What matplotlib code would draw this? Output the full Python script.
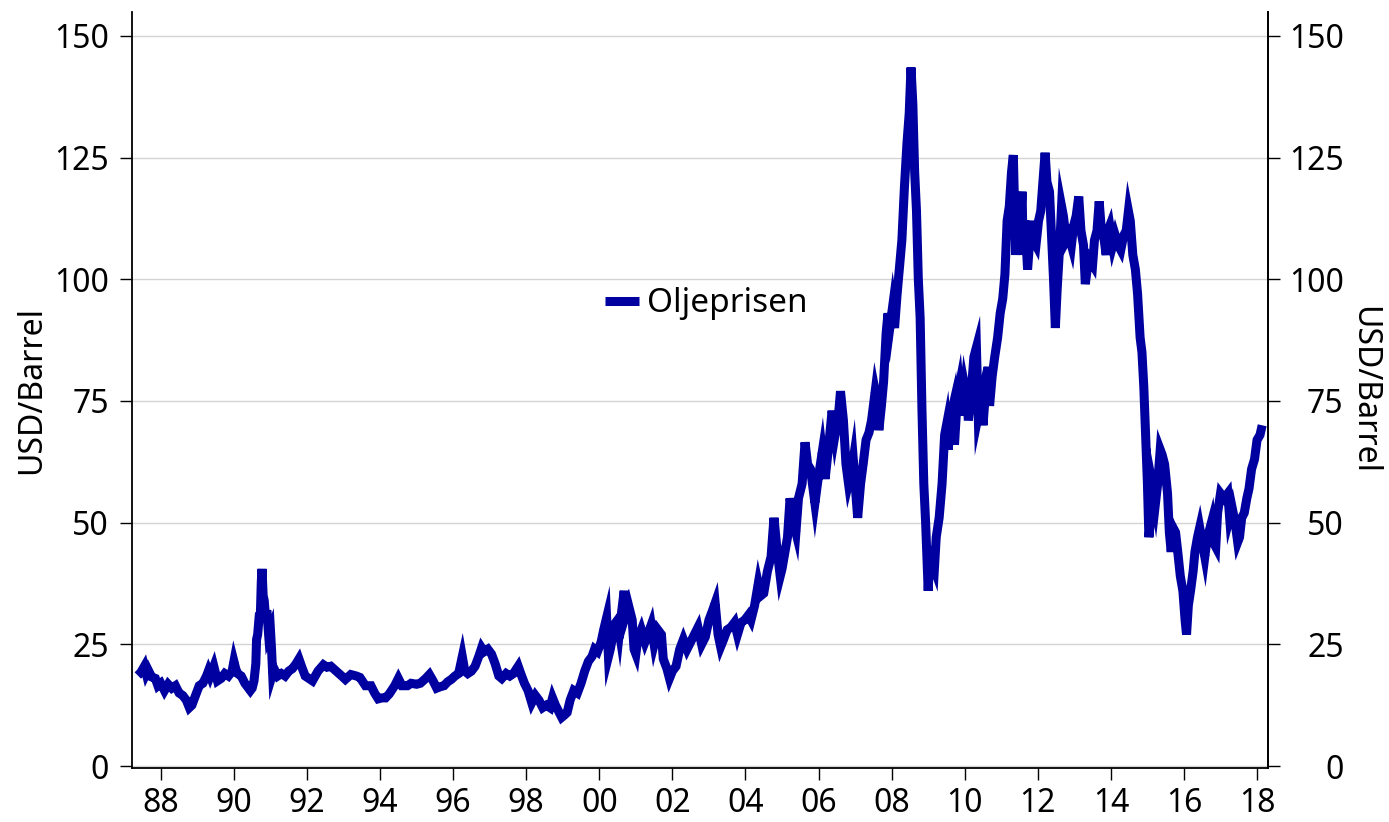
import numpy as np
import matplotlib
matplotlib.use("Agg")
import matplotlib.pyplot as plt

plt.rcParams['font.family'] = ['Noto Sans', 'DejaVu Sans']

# Brent oljepris, USD/fat (desimalår, pris)
years = [
    1987.37, 1987.45, 1987.55, 1987.60, 1987.65, 1987.75, 1987.85, 1987.92, 1988.00, 1988.10,
    1988.20, 1988.30, 1988.40, 1988.50, 1988.60, 1988.70, 1988.78, 1988.85, 1988.95, 1989.05,
    1989.15, 1989.25, 1989.30, 1989.35, 1989.45, 1989.55, 1989.65, 1989.75, 1989.85, 1989.95,
    1990.00, 1990.05, 1990.10, 1990.20, 1990.30, 1990.40, 1990.45, 1990.50, 1990.55, 1990.60,
    1990.62, 1990.65, 1990.70, 1990.72, 1990.75, 1990.77, 1990.80, 1990.83, 1990.87, 1990.90,
    1990.95, 1991.00, 1991.03, 1991.06, 1991.10, 1991.20, 1991.30, 1991.40, 1991.50, 1991.60,
    1991.70, 1991.78, 1991.85, 1991.95, 1992.05, 1992.15, 1992.30, 1992.45, 1992.55, 1992.65,
    1992.80, 1992.95, 1993.05, 1993.20, 1993.35, 1993.45, 1993.60, 1993.75, 1993.85, 1993.95,
    1994.05, 1994.15, 1994.25, 1994.40, 1994.50, 1994.60, 1994.75, 1994.85, 1995.00, 1995.10,
    1995.25, 1995.35, 1995.45, 1995.55, 1995.65, 1995.75, 1995.85, 1995.95, 1996.05, 1996.15,
    1996.25, 1996.32, 1996.40, 1996.50, 1996.60, 1996.70, 1996.78, 1996.85, 1996.95, 1997.05,
    1997.15, 1997.25, 1997.33, 1997.45, 1997.55, 1997.65, 1997.78, 1997.85, 1997.95, 1998.05,
    1998.15, 1998.25, 1998.35, 1998.45, 1998.55, 1998.65, 1998.72, 1998.80, 1998.90, 1998.97,
    1999.05, 1999.12, 1999.20, 1999.30, 1999.40, 1999.50, 1999.60, 1999.70, 1999.80, 1999.87,
    1999.95, 2000.05, 2000.12, 2000.20, 2000.25, 2000.30, 2000.40, 2000.45, 2000.50, 2000.55,
    2000.60, 2000.68, 2000.72, 2000.80, 2000.90, 2000.95, 2001.00, 2001.05, 2001.15, 2001.25,
    2001.35, 2001.42, 2001.50, 2001.60, 2001.70, 2001.75, 2001.85, 2001.92, 2002.00, 2002.10,
    2002.20, 2002.30, 2002.40, 2002.50, 2002.60, 2002.70, 2002.80, 2002.90, 2003.00, 2003.10,
    2003.17, 2003.25, 2003.32, 2003.40, 2003.50, 2003.60, 2003.70, 2003.78, 2003.88, 2003.98,
    2004.08, 2004.15, 2004.25, 2004.35, 2004.42, 2004.50, 2004.60, 2004.70, 2004.78, 2004.85,
    2004.95, 2005.00, 2005.08, 2005.15, 2005.22, 2005.30, 2005.38, 2005.45, 2005.55, 2005.63,
    2005.70, 2005.78, 2005.90, 2005.97, 2006.05, 2006.10, 2006.18, 2006.28, 2006.37, 2006.45,
    2006.55, 2006.60, 2006.68, 2006.75, 2006.82, 2006.90, 2006.95, 2007.03, 2007.07, 2007.15,
    2007.22, 2007.30, 2007.38, 2007.45, 2007.55, 2007.60, 2007.65, 2007.72, 2007.78, 2007.85,
    2007.90, 2007.95, 2008.02, 2008.08, 2008.15, 2008.22, 2008.28, 2008.35, 2008.42, 2008.48,
    2008.53, 2008.58, 2008.63, 2008.68, 2008.73, 2008.78, 2008.83, 2008.88, 2008.93, 2008.97,
    2009.00, 2009.05, 2009.10, 2009.17, 2009.22, 2009.30, 2009.38, 2009.45, 2009.50, 2009.55,
    2009.62, 2009.68, 2009.72, 2009.80, 2009.85, 2009.92, 2010.00, 2010.05, 2010.10, 2010.17,
    2010.25, 2010.32, 2010.37, 2010.45, 2010.50, 2010.58, 2010.64, 2010.68, 2010.75, 2010.82,
    2010.90, 2010.97, 2011.04, 2011.10, 2011.16, 2011.22, 2011.28, 2011.33, 2011.37, 2011.40,
    2011.47, 2011.52, 2011.57, 2011.60, 2011.65, 2011.72, 2011.78, 2011.83, 2011.88, 2011.95,
    2012.02, 2012.08, 2012.15, 2012.20, 2012.25, 2012.32, 2012.38, 2012.43, 2012.48, 2012.53,
    2012.60, 2012.65, 2012.70, 2012.78, 2012.85, 2012.92, 2012.98, 2013.05, 2013.12, 2013.18,
    2013.25, 2013.30, 2013.35, 2013.42, 2013.50, 2013.55, 2013.62, 2013.68, 2013.73, 2013.80,
    2013.87, 2013.92, 2013.97, 2014.05, 2014.12, 2014.20, 2014.27, 2014.35, 2014.42, 2014.48,
    2014.53, 2014.60, 2014.67, 2014.73, 2014.80, 2014.85, 2014.90, 2014.95, 2015.00, 2015.04,
    2015.08, 2015.13, 2015.18, 2015.22, 2015.28, 2015.35, 2015.40, 2015.47, 2015.55, 2015.60,
    2015.65, 2015.70, 2015.77, 2015.83, 2015.90, 2015.97, 2016.03, 2016.07, 2016.12, 2016.18,
    2016.25, 2016.30, 2016.37, 2016.43, 2016.50, 2016.57, 2016.62, 2016.68, 2016.75, 2016.80,
    2016.87, 2016.92, 2017.00, 2017.10, 2017.20, 2017.25, 2017.32, 2017.40, 2017.47, 2017.52,
    2017.58, 2017.65, 2017.72, 2017.78, 2017.85, 2017.93, 2018.00, 2018.08, 2018.14,
]
prices = [
    18.6, 19.2, 20.5, 19.0, 19.8, 18.3, 18.0, 16.5, 17.0, 15.5,
    16.8, 16.0, 16.5, 15.0, 14.5, 13.5, 12.0, 12.5, 14.5, 16.5,
    17.0, 18.5, 19.5, 18.5, 20.5, 17.5, 18.0, 19.0, 18.5, 19.5,
    21.5, 20.0, 19.0, 18.5, 17.0, 16.0, 15.5, 16.0, 17.5, 21.0,
    26.0, 27.0, 31.5, 30.0, 38.0, 40.5, 35.0, 34.0, 30.0, 32.0,
    27.0, 28.0, 24.0, 19.0, 20.0, 18.5, 19.0, 18.5, 19.5, 20.0,
    21.0, 22.0, 20.5, 18.5, 18.0, 17.5, 19.5, 20.8, 20.3, 20.5,
    19.5, 18.5, 17.8, 18.8, 18.5, 18.2, 16.5, 16.5, 15.0, 13.8,
    14.0, 14.0, 14.8, 16.5, 18.0, 16.5, 16.5, 17.0, 16.8, 17.0,
    18.0, 18.8, 17.5, 16.0, 16.3, 16.5, 17.3, 17.8, 18.5, 19.0,
    22.5, 19.5, 19.0, 19.5, 20.5, 22.5, 24.3, 23.5, 24.0, 23.0,
    21.0, 18.5, 18.0, 19.0, 18.5, 19.0, 20.5, 19.0, 17.0, 15.5,
    13.0, 14.5, 13.5, 12.0, 12.5, 12.0, 14.0, 12.5, 11.0, 10.0,
    10.5, 11.0, 13.5, 15.5, 15.0, 17.0, 19.5, 21.5, 22.5, 24.0,
    23.5, 25.5, 28.0, 30.5, 22.5, 24.0, 28.0, 29.5, 30.0, 27.5,
    31.0, 36.0, 31.0, 33.0, 30.0, 24.0, 23.0, 26.0, 28.0, 25.5,
    27.5, 29.0, 25.0, 28.0, 27.0, 22.0, 20.0, 18.0, 19.5, 20.5,
    24.0, 26.0, 24.0, 25.5, 27.0, 28.5, 25.0, 26.5, 30.0, 32.0,
    33.5, 27.0, 24.5, 26.0, 28.0, 28.5, 29.5, 27.0, 29.5, 30.0,
    31.0, 30.0, 33.0, 37.5, 35.0, 35.5, 40.0, 43.0, 51.0, 45.5,
    39.0, 40.5, 44.0, 47.0, 55.0, 50.5, 48.0, 55.0, 58.0, 66.5,
    62.0, 61.0, 54.0, 58.0, 62.0, 64.5, 59.0, 66.0, 73.0, 68.0,
    72.5, 77.0, 71.0, 62.0, 58.0, 60.5, 63.0, 55.0, 51.0, 58.0,
    62.0, 67.0, 68.5, 71.0, 77.0, 75.0, 69.0, 74.0, 79.0, 89.0,
    93.0, 90.0, 94.0, 90.0, 97.0, 103.0, 108.0, 119.0, 128.0, 134.0,
    143.5, 136.0, 122.0, 114.0, 100.0, 92.0, 73.0, 58.0, 50.0, 42.0,
    36.0, 45.0, 42.0, 40.5, 47.0, 51.0, 58.0, 68.0, 70.0, 65.0,
    72.0, 74.0, 66.0, 76.0, 78.0, 72.0, 78.0, 76.0, 71.0, 76.0,
    84.0, 86.0, 72.0, 75.0, 70.0, 78.0, 82.0, 74.0, 80.0, 84.0,
    88.0, 93.0, 96.0, 101.0, 112.0, 115.0, 122.0, 125.5, 113.0, 105.0,
    115.0, 111.0, 118.0, 105.0, 112.0, 102.0, 108.0, 112.0, 108.0, 107.0,
    112.0, 114.0, 121.0, 126.0, 120.0, 118.0, 108.0, 100.0, 90.0, 98.0,
    107.0, 115.0, 113.0, 108.0, 109.0, 107.0, 111.0, 113.0, 117.0, 110.0,
    107.0, 99.0, 102.0, 104.0, 103.0, 108.0, 110.0, 116.0, 111.0, 109.0,
    105.0, 110.0, 111.0, 107.0, 109.0, 107.0, 106.0, 109.0, 110.0, 114.0,
    112.0, 105.0, 102.0, 97.0, 88.0, 85.0, 78.0, 68.0, 58.0, 47.0,
    50.0, 58.0, 56.0, 54.0, 58.0, 65.0, 64.0, 62.0, 56.0, 48.0,
    44.0, 49.0, 48.0, 44.0, 39.0, 36.0, 30.0, 27.0, 33.0, 36.0,
    40.0, 44.0, 47.0, 49.0, 46.0, 43.0, 46.0, 48.0, 50.0, 46.0,
    45.0, 52.0, 56.0, 55.0, 56.0, 51.0, 53.0, 50.0, 46.0, 47.0,
    51.0, 52.0, 55.0, 57.0, 61.0, 63.0, 67.0, 68.0, 70.0,
]

x_ticks = list(range(1988, 2019, 2))
x_labels = ['88', '90', '92', '94', '96', '98', '00', '02', '04', '06',
            '08', '10', '12', '14', '16', '18']
y_ticks = [0, 25, 50, 75, 100, 125, 150]

line_color = '#0000a0'
fs = 23

fig = plt.figure(figsize=(13.89, 8.22), dpi=100)
ax = fig.add_axes([0.095, 0.0657, 0.8179, 0.9197])

ax.plot(years, prices, color=line_color, lw=6.5, label='Oljeprisen',
        solid_joinstyle='miter', solid_capstyle='butt')

ax.set_xlim(1987.21, 2018.30)
ax.set_ylim(-0.4, 154.9)
ax.set_xticks(x_ticks)
ax.set_xticklabels(x_labels)
ax.set_yticks(y_ticks)
ax.grid(axis='y', color='#d4d4d4', lw=1.0)
ax.set_axisbelow(True)

ax.spines['top'].set_visible(False)
for s in ['left', 'right', 'bottom']:
    ax.spines[s].set_color('black')
    ax.spines[s].set_linewidth(1.3)

ax.tick_params(axis='both', direction='out', length=8.5, width=1.0,
               labelsize=fs, colors='black')
ax.tick_params(axis='y', pad=8)
ax.tick_params(axis='x', pad=5)
ax.set_ylabel('USD/Barrel', fontsize=fs, va='center')
ax.yaxis.set_label_coords(-0.088, 0.5)

ax2 = ax.twinx()
ax2.set_ylim(ax.get_ylim())
ax2.set_yticks(y_ticks)
for s in ['top', 'left', 'bottom']:
    ax2.spines[s].set_visible(False)
ax2.spines['right'].set_linewidth(1.3)
ax2.tick_params(axis='y', direction='out', length=8.5, width=1.0,
                labelsize=fs, pad=46)
for lab in ax2.get_yticklabels():
    lab.set_horizontalalignment('right')
ax2.set_ylabel('USD/Barrel', fontsize=fs, rotation=270, va='center')
ax2.yaxis.set_label_coords(1.084, 0.5)

ax.legend(loc='center left', bbox_to_anchor=(0.405, 0.614), frameon=False,
          fontsize=24, handlelength=1.0, handletextpad=0.25, borderaxespad=0)

fig.savefig('out.png', dpi=100)
